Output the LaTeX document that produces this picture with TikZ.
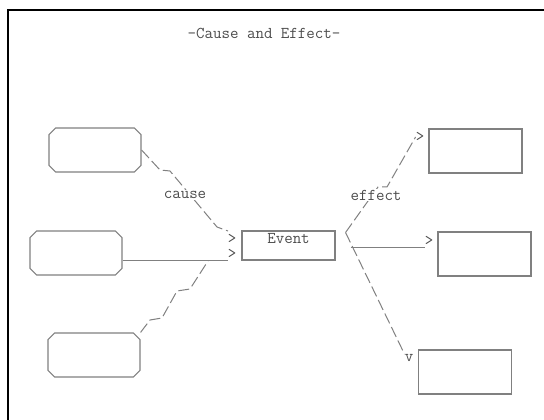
\documentclass[tikz,border=0pt]{standalone}
\usepackage{fontspec}
\usetikzlibrary{shapes.misc, positioning, calc}
\definecolor{inkgray}{gray}{0.30}
\definecolor{linegray}{gray}{0.50}

\begin{document}
\begin{tikzpicture}[
    x=1pt, y=1pt,
    font=\fontsize{16.5}{18}\selectfont\ttfamily,
    % Define the style for each block
    causebox/.style={chamfered rectangle, chamfered rectangle xsep=6pt, chamfered rectangle ysep=12pt, draw=linegray, line width=1.1pt, minimum width=92pt, minimum height=44pt},
    effectbox/.style={rectangle, draw=linegray, line width=1.1pt, minimum width=93pt, minimum height=44pt},
    eventbox/.style={rectangle, draw=linegray, line width=1.1pt, minimum width=93pt, minimum height=29pt, inner sep=0pt, text height=8pt, text depth=12pt, text=inkgray},
    tip/.style={inner sep=0pt, text=inkgray},
    tag/.style={fill=white, inner sep=1pt, text=inkgray},
    connector/.style={draw=linegray, line width=1pt, dash pattern=on 11pt off 4pt},
    link/.style={draw=linegray, line width=1pt}
]
\useasboundingbox (0,0) rectangle (544,420);

% Frame
\draw [line width=2pt] (8,0) -- (8,410) -- (544,410);

% Title
\node [text=inkgray] (Title) at (264,387) {-Cause and Effect-};

% Place nodes using explicit positioning
\node [causebox] (Cause1) at (95,270) {};
\node [causebox] (Cause2) at (76,167) {};
\node [causebox] (Cause3) at (94,65) {};

\node [eventbox] (Event) at (288.5,174.5) {Event};

\node [effectbox] (Effect1) at (475.5,269) {};
\node [effectbox] (Effect2) at (484.5,166) {};
\node [effectbox] (Effect3) at (465,48) {};

% Arrow heads drawn as characters
\node [tip] (In1) at (232,181) {>};
\node [tip] (In2) at (232,166) {>};
\node [tip] (Out1) at (420,283) {>};
\node [tip] (Out2) at (429,179) {>};
\node [tip] (Out3) at (409,62) {v};

\coordinate (Join) at (208,159);
\coordinate (Fork) at ([xshift=10pt,yshift=13pt]Event.east);
\coordinate (Fork2) at ([xshift=15pt,yshift=-2pt]Event.east);

% Draw connectors with labels
\draw [connector] (Cause1.east) -- (160,250) -- (170,249) -- (217,193) -- (228,189);
\node [tag] (CauseTag) at (185,225) {cause};
\draw [link] ([yshift=-8pt]Cause2.east) -- ([yshift=-8pt]Cause2.east -| In2.west);
\draw [connector] (Cause3.east |- Cause3.north) -- (150,100) -- (162,102) -- (177,129) -- (190,131) -- (Join);

\draw [connector] (Fork) -- (378,233) -- (387,233) -- (Out1.west);
\node [tag] (EffectTag) at (376,225) {effect};
\draw [link] (Fork2) -- (Fork2 -| Out2.west);
\draw [connector] (Fork) -- (Out3.north west);
\end{tikzpicture}
\end{document}
